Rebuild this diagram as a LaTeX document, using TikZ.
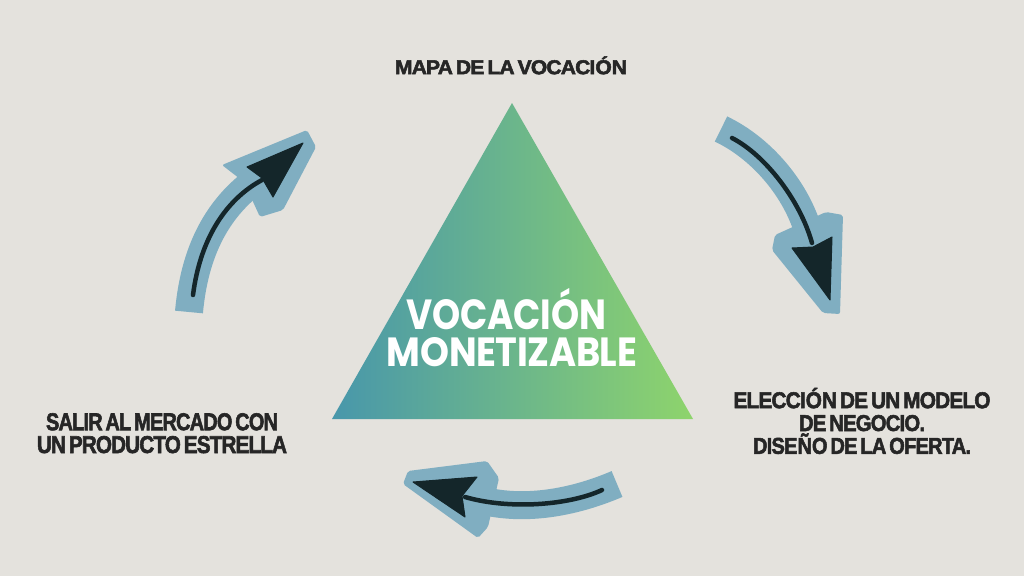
\documentclass[tikz,border=0pt]{standalone}
\usepackage{fontspec}
\usepackage{graphicx}
\newfontfamily\labfont{Liberation Sans}[LetterSpace=-4,WordSpace=0.6,FakeBold=2.5]
\newfontfamily\titfont{Poppins}[LetterSpace=-1]
\definecolor{bgc}{HTML}{E4E2DD}
\definecolor{bandc}{HTML}{80AEC1}
\definecolor{inkc}{HTML}{14262A}
\definecolor{txtc}{HTML}{262626}
\definecolor{triL}{HTML}{4897AB}
\definecolor{triR}{HTML}{8ED46C}
\newcommand\fitl[3]{\resizebox{#1pt}{#2pt}{#3}}
\tikzset{
  lab/.style={inner sep=0pt, text=txtc, font=\labfont\bfseries\fontsize{16}{22.8}\selectfont, align=center},
  tit/.style={inner sep=0pt, text=white, font=\titfont\bfseries},
  band/.style={draw=bandc, line width=28pt, line cap=butt},
  bandhead/.style={fill=bandc, rounded corners=2pt},
  shaft/.style={draw=inkc, line width=4.5pt, line cap=round},
  inkhead/.style={fill=inkc, draw=inkc, line width=1pt, line join=round},
}
\begin{document}
\begin{tikzpicture}[x=1pt,y=-1pt]
\fill[bgc] (0,0) rectangle (1024,576);
\useasboundingbox (0,0) rectangle (1024,576);

% triangle
\coordinate (ta) at (512,103);
\coordinate (tl) at (332,419);
\coordinate (tr) at (693,419);
\shade[left color=triL, right color=triR] (ta) -- (tr) -- (tl) -- cycle;

\node[tit, anchor=south] (voc) at (506.5,330) {\fitl{199}{30}{VOCACI\smash{Ó}N}};
\node[tit, anchor=south] (mon) at (512,367) {\fitl{250}{29}{MONETIZABLE}};

% labels
\node[lab, anchor=north] (mapa) at (511,60) {\fitl{232}{14}{MAPA DE LA VOCACI\smash{Ó}N}};
\node[lab, anchor=north] (eleccion) at (862,392) {\fitl{257}{16}{ELECCI\smash{Ó}N DE UN MODELO}\\ \fitl{126}{16}{DE NEGOCIO.}\\ \fitl{218}{16}{DISE\smash{Ñ}O DE LA OFERTA.}};
\node[lab, anchor=north] (salir) at (162,413) {\fitl{232}{17}{SALIR AL MERCADO CON}\\ \fitl{250}{17}{UN PRODUCTO ESTRELLA}};

% arrow 1 (top left, upward)
\coordinate (a1bs) at (189,312);
\coordinate (a1be) at (268,172);
\coordinate (a1s) at (193,295);
\coordinate (a1e) at (262,180);
\coordinate (a1t) at (303,143);
\draw[band] (a1bs) .. controls (195,245) and (222,200) .. (a1be);
\fill[bandhead] (222,165) -- (307,130) -- (316,147) -- (283,210) -- (260,217) -- (244,182) -- cycle;
\draw[shaft] (a1s) .. controls (200,240) and (225,200) .. (a1e);
\filldraw[inkhead] (247,167) -- (a1t) -- (273,197) -- (262,178) -- cycle;

% arrow 2 (top right, downward)
\coordinate (a2bs) at (721,129);
\coordinate (a2be) at (810,238);
\coordinate (a2s) at (732,138);
\coordinate (a2e) at (812,243);
\coordinate (a2t) at (830,300);
\draw[band] (a2bs) .. controls (765,150) and (800,195) .. (a2be);
\fill[bandhead] (775,235) -- (826,212) -- (843,215) -- (840,314) -- (823,313) -- (772,250) -- cycle;
\draw[shaft] (a2s) .. controls (765,155) and (800,200) .. (a2e);
\filldraw[inkhead] (792,248) -- (a2t) -- (832,237) -- (813,247) -- cycle;

% arrow 3 (bottom, leftward)
\coordinate (a3bs) at (617,484);
\coordinate (a3be) at (470,497);
\coordinate (a3s) at (602,490);
\coordinate (a3e) at (465,497);
\coordinate (a3t) at (413,482);
\draw[band] (a3bs) .. controls (575,502) and (520,514) .. (a3be);
\fill[bandhead] (403,484) -- (408,471) -- (487,461) -- (499,478) -- (488,527) -- (478,538) -- cycle;
\draw[shaft] (a3s) .. controls (570,505) and (510,510) .. (a3e);
\filldraw[inkhead] (477,477) -- (a3t) -- (465,517) -- (462,496) -- cycle;
\end{tikzpicture}
\end{document}
